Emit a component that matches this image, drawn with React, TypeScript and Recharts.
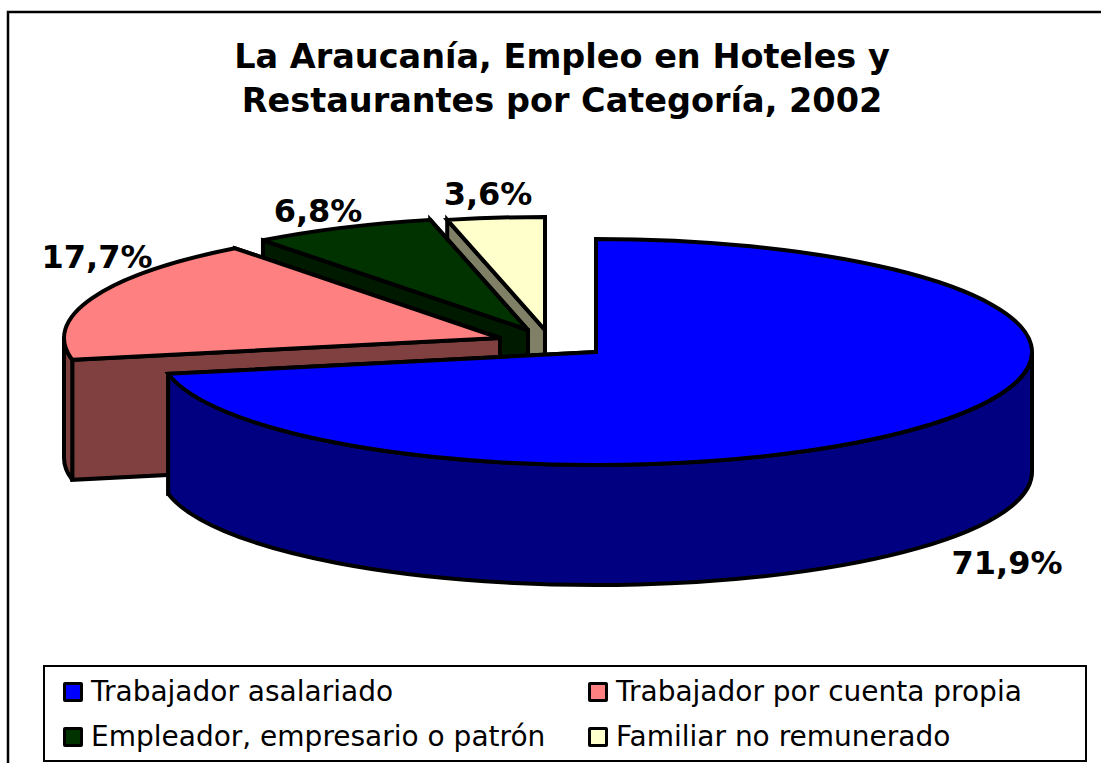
import { PieChart, Pie, Legend } from "recharts";

const categories = [
  "Trabajador asalariado",
  "Trabajador por cuenta propia",
  "Empleador, empresario o patrón",
  "Familiar no remunerado",
];
const shares = [71.9, 17.7, 6.8, 3.6];
const titleLines = ["La Araucanía, Empleo en Hoteles y", "Restaurantes por Categoría, 2002"];

const topColors = ["#0000FF", "#FF8080", "#003300", "#FFFFCC"];
const wallColors = ["#000080", "#804040", "#001A00", "#808066"];

// exploded slices: how far each one is pulled off the pie centre, px
const shiftX = [0, -96, -68, -51];
const shiftY = [0, -14, -22, -22];
// label centres, px
const labelX = [1007, 97, 318, 488];
const labelY = [574, 268, 222, 205];

const WIDTH = 1101;
const HEIGHT = 763;
const CX = 596;
const CY = 352;
const RX = 436;
const RY = 113;
const DEPTH = 120;
const FONT = "'DejaVu Sans', Verdana, sans-serif";

// painted back to front, so the slices run counter-clockwise from the top
const sliceData = categories
  .map((name, i) => ({ name, value: shares[i], idx: i, fill: topColors[i] }))
  .reverse();

const rad = (deg: number) => (deg * Math.PI) / 180;

function Slice3D(props: any) {
  const { cx, cy, outerRadius, startAngle, endAngle, payload } = props;
  const i = payload.idx;
  const ox = cx + shiftX[i];
  const oy = cy + shiftY[i];
  const ry = (outerRadius * RY) / RX;
  const px = (a: number) => ox + outerRadius * Math.cos(rad(a));
  const py = (a: number) => oy - ry * Math.sin(rad(a));

  const cut = (a: number) =>
    `M${ox},${oy} L${px(a)},${py(a)} L${px(a)},${py(a) + DEPTH} L${ox},${oy + DEPTH} Z`;

  const large = endAngle - startAngle > 180 ? 1 : 0;
  const top = `M${ox},${oy} L${px(startAngle)},${py(startAngle)} A${outerRadius},${ry} 0 ${large} 0 ${px(endAngle)},${py(endAngle)} Z`;

  // only the front half of the rim can be seen
  const a0 = Math.max(startAngle, 180);
  const a1 = Math.min(endAngle, 360);
  const rim =
    a1 > a0
      ? `M${px(a0)},${py(a0)} A${outerRadius},${ry} 0 0 0 ${px(a1)},${py(a1)} L${px(a1)},${py(a1) + DEPTH} A${outerRadius},${ry} 0 0 1 ${px(a0)},${py(a0) + DEPTH} Z`
      : null;

  const line = { stroke: "#000", strokeWidth: 4, strokeLinejoin: "miter" as const, strokeMiterlimit: 3 };
  return (
    <g>
      <path d={cut(startAngle)} fill={wallColors[i]} {...line} />
      <path d={cut(endAngle)} fill={wallColors[i]} {...line} />
      {rim && <path d={rim} fill={wallColors[i]} {...line} />}
      <path d={top} fill={topColors[i]} {...line} />
    </g>
  );
}

function renderLabel(props: any) {
  const i = props.payload?.idx ?? props.idx;
  return (
    <text
      x={labelX[i]}
      y={labelY[i]}
      textAnchor="middle"
      fontFamily={FONT}
      fontWeight="bold"
      fontSize={32}
      fill="#000"
    >
      {shares[i].toFixed(1).replace(".", ",") + "%"}
    </text>
  );
}

function LegendBox() {
  return (
    <div
      style={{
        boxSizing: "border-box",
        width: 1044,
        height: 97,
        border: "2px solid #000",
        background: "#fff",
        position: "relative",
        fontFamily: FONT,
        fontSize: 28,
        color: "#000",
      }}
    >
      {categories.map((name, i) => (
        <div
          key={name}
          style={{
            position: "absolute",
            left: i % 2 === 0 ? 18 : 543,
            top: i < 2 ? 10 : 55,
            display: "flex",
            alignItems: "center",
            whiteSpace: "nowrap",
            lineHeight: "30px",
          }}
        >
          <span
            style={{
              boxSizing: "border-box",
              display: "inline-block",
              width: 20,
              height: 20,
              marginRight: 8,
              background: topColors[i],
              border: "3.5px solid #000",
              borderRadius: 2,
            }}
          />
          {name}
        </div>
      ))}
    </div>
  );
}

export default function App() {
  return (
    <div style={{ position: "absolute", left: 0, top: 0, width: WIDTH, height: HEIGHT, overflow: "hidden", background: "#fff" }}>
      <PieChart width={WIDTH} height={HEIGHT} margin={{ top: 0, right: 0, bottom: 0, left: 0 }}>
        <rect x={8} y={12} width={1300} height={1000} fill="#fff" stroke="#000" strokeWidth={2.5} />
        {titleLines.map((t, i) => (
          <text
            key={t}
            x={562}
            y={68 + i * 44}
            textAnchor="middle"
            fontFamily={FONT}
            fontWeight="bold"
            fontSize={33.5}
            fill="#000"
          >
            {t}
          </text>
        ))}
        <Pie
          data={sliceData}
          dataKey="value"
          nameKey="name"
          cx={CX}
          cy={CY}
          outerRadius={RX}
          startAngle={90}
          endAngle={450}
          paddingAngle={0}
          shape={Slice3D}
          label={renderLabel}
          labelLine={false}
          isAnimationActive={false}
        />
        <Legend
          content={<LegendBox />}
          wrapperStyle={{ position: "absolute", left: 43, top: 665, width: 1044, bottom: "auto" }}
        />
      </PieChart>
    </div>
  );
}
